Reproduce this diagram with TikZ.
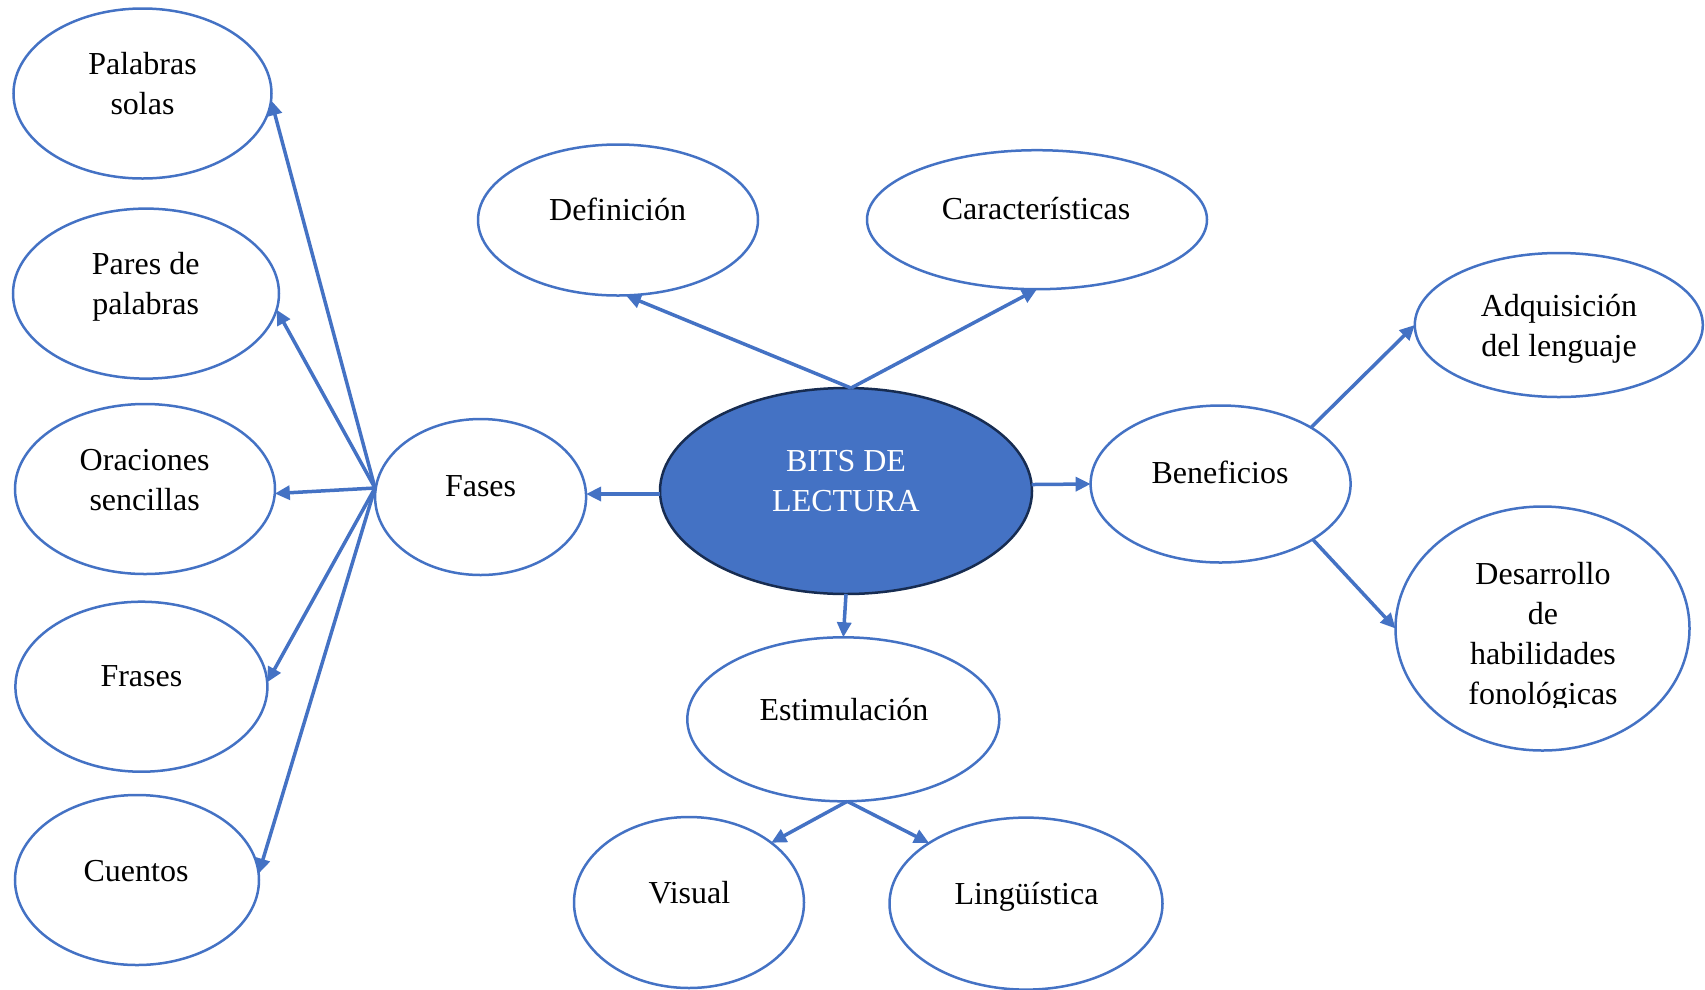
\documentclass[tikz,border=0pt]{standalone}
\usepackage{fontspec}
\setmainfont{Liberation Serif}
\usetikzlibrary{shapes.geometric,arrows.meta}
\definecolor{wblue}{HTML}{4472C4}
\definecolor{navy}{HTML}{172C51}
\tikzset{
  bub/.style={ellipse, draw=wblue, line width=2.5pt, inner sep=0pt, outer sep=0pt},
  txt/.style={align=center, font=\fontsize{32}{40}\selectfont, text=black, inner sep=0pt},
  conn/.style={draw=wblue, line width=3.5pt, -{Triangle[length=15pt,width=14pt]}},
  plainline/.style={draw=wblue, line width=3.5pt}
}
\begin{document}
\begin{tikzpicture}[x=1pt,y=-1pt]
\useasboundingbox (0,0) rectangle (1705,989);

% left column
\node[bub, minimum width=258pt, minimum height=170pt] (ps) at (142.5,93.5) {};
\node[txt] (tps) at (142.5,83.5) {Palabras\\solas};
\node[bub, minimum width=266pt, minimum height=170pt] (pp) at (146,293.6) {};
\node[txt] (tpp) at (145.7,286.5) {Pares de\\palabras};
\node[bub, minimum width=260pt, minimum height=170pt] (os) at (145,489) {};
\node[txt] (tos) at (144.6,480.5) {Oraciones\\sencillas};
\node[bub, minimum width=252pt, minimum height=170pt] (fr) at (141.4,686.7) {};
\node[txt] (tfr) at (141.4,676.5) {Frases};
\node[bub, minimum width=244pt, minimum height=170pt] (cu) at (137,880) {};
\node[txt] (tcu) at (136,871) {Cuentos};

% fases
\node[bub, minimum width=211pt, minimum height=156pt] (fa) at (480.6,497) {};
\node[txt] (tfa) at (480.6,486) {Fases};
\coordinate (hub) at (375,488);

% center
\node[ellipse, fill=wblue, draw=navy, line width=2.5pt, inner sep=0pt, outer sep=0pt,
      minimum width=372pt, minimum height=206pt] (bits) at (846,491) {};
\node[txt, text=white] (tbits) at (846,481) {BITS DE\\LECTURA};

% top
\node[bub, minimum width=280pt, minimum height=151pt] (def) at (618,220) {};
\node[txt] (tdef) at (617.6,209.5) {Definición};
\node[bub, minimum width=340pt, minimum height=139pt] (car) at (1037,219.7) {};
\node[txt] (tcar) at (1036,209) {Características};

% right
\node[bub, minimum width=260pt, minimum height=157pt] (ben) at (1220.6,484) {};
\node[txt] (tben) at (1220,472.5) {Beneficios};
\node[bub, minimum width=288pt, minimum height=144pt] (adq) at (1558.8,325) {};
\node[txt] (tadq) at (1559,329) {Adquisición\\del lenguaje};
\node[bub, minimum width=294pt, minimum height=244pt] (des) at (1542.5,628.5) {};
\begin{scope}
\clip (1395,500) rectangle (1705,707);
\node[txt] (tdes) at (1543,637) {Desarrollo\\de\\habilidades\\fonológicas};
\end{scope}

% bottom
\node[bub, minimum width=312pt, minimum height=164pt] (est) at (843.3,719.3) {};
\node[txt] (test) at (844,709.5) {Estimulación};
\node[bub, minimum width=230pt, minimum height=171pt] (vis) at (689,902.5) {};
\node[txt] (tvis) at (689.4,893) {Visual};
\node[bub, minimum width=273pt, minimum height=172pt] (lin) at (1026,903.6) {};
\node[txt] (tlin) at (1026.5,896.5) {Lingüística};

% connectors
\draw[conn] ([yshift=-3pt]bits.west) -- ([yshift=3pt]fa.east);
\draw[conn] (hub) -- (ps.-3);
\draw[conn] (hub) -- (pp.-7);
\draw[conn] (hub) -- (os.-2);
\draw[conn] (hub) -- (fr.2);
\draw[conn] (hub) -- (cu.3);
\draw[conn] ([xshift=5pt]bits.north) -- (def.-84);
\draw[conn] ([xshift=5pt]bits.north) -- (car.south);
\draw[conn] (bits.2) -- (ben.west);
\draw[conn] (bits.south) -- (est.north);
\draw[conn] (ben.32) -- (adq.west);
\draw[conn] (ben.-31) -- (des.west);
\draw[conn] ([xshift=4pt]est.south) -- (vis.36);
\draw[conn] ([xshift=4pt]est.south) -- (lin.148);
\end{tikzpicture}
\end{document}
